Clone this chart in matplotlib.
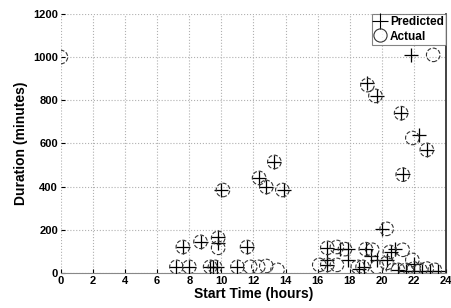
import matplotlib
matplotlib.use("Agg")
import matplotlib.pyplot as plt
from matplotlib.lines import Line2D

# Actual (circles)
actual_t = [0.0, 23.2, 19.1, 19.6, 21.2, 21.9, 22.8, 21.3, 13.3, 12.35, 12.8, 13.8, 10.1, 20.3,
            7.6, 8.7, 9.8, 9.8, 11.6,
            7.2, 8.0, 9.3, 9.6, 11.0, 11.8, 12.3, 12.8, 13.5,
            16.1, 16.6, 17.2, 17.7, 16.6, 17.2, 18.5, 18.8, 19.0, 19.4, 19.7, 20.3, 20.5, 21.3,
            21.9, 20.7, 21.0, 21.5, 22.0, 22.4, 22.8, 23.3]
actual_d = [1000, 1010, 870, 820, 740, 625, 570, 455, 514, 440, 398, 384, 384, 204,
            120, 144, 162, 116, 120,
            28, 28, 28, 28, 28, 28, 28, 32, 14,
            37, 116, 120, 110, 37, 37, 28, 28, 110, 107, 28, 46, 97, 107,
            60, 14, 14, 14, 20, 14, 20, 14]

# Predicted (plus)
pred_t = [21.8, 19.1, 19.7, 21.2, 22.3, 22.8, 21.3, 13.3, 12.35, 12.8, 13.9, 10.0, 20.0,
          7.6, 8.7, 9.8, 9.8, 11.6,
          7.2, 8.0, 9.3, 9.5, 9.7, 11.0,
          16.6, 16.6, 16.6, 17.4, 17.9, 17.9, 18.6, 18.9, 19.0, 19.3, 19.7, 20.3, 20.6, 20.8,
          21.0, 21.5, 22.0, 22.0, 22.5, 23.0, 23.5]
pred_d = [1010, 880, 820, 740, 640, 570, 460, 514, 440, 398, 384, 384, 204,
          120, 144, 165, 140, 120,
          28, 28, 28, 28, 28, 28,
          116, 60, 37, 110, 110, 60, 20, 28, 110, 80, 60, 60, 97, 110,
          14, 10, 40, 10, 10, 10, 10]

x_ticks = list(range(0, 25, 2))
y_ticks = list(range(0, 1201, 200))

plt.rcParams['font.family'] = ['Liberation Sans', 'DejaVu Sans']
plt.rcParams['font.weight'] = 'bold'

fig = plt.figure(figsize=(4.51, 3.08), dpi=100)
ax = fig.add_axes([0.135, 0.114, 0.854, 0.841])

ax.scatter(pred_t, pred_d, marker='+', s=90, c='black', linewidths=0.9, zorder=3)
ax.scatter(actual_t, actual_d, marker='o', s=95, facecolors='none', edgecolors='#333333',
           linewidths=0.8, linestyles='--', zorder=3)

ax.set_xlim(0, 24)
ax.set_ylim(0, 1200)
ax.set_xticks(x_ticks)
ax.set_yticks(y_ticks)
ax.tick_params(labelsize=8, length=3, direction='in', pad=2)
for lab in ax.get_xticklabels() + ax.get_yticklabels():
    lab.set_fontweight('bold')
ax.grid(True, linestyle=':', color='#b0b0b0', linewidth=0.8)
ax.set_axisbelow(True)

for s in ['top', 'left']:
    ax.spines[s].set_visible(False)
ax.spines['bottom'].set_color('#888888')
ax.spines['right'].set_color('#222222')
ax.spines['right'].set_linewidth(1.2)

ax.set_xlabel('Start Time (hours)', fontsize=10, fontweight='bold', labelpad=1)
ax.set_ylabel('Duration (minutes)', fontsize=10, fontweight='bold', labelpad=4)

handles = [Line2D([], [], marker='+', color='black', linestyle='none', markersize=11, markeredgewidth=0.8),
           Line2D([], [], marker='o', markerfacecolor='none', markeredgecolor='#333333',
                  linestyle='none', markersize=9.5, markeredgewidth=0.8)]
leg = ax.legend(handles, ['Predicted', 'Actual'], loc='upper right', fontsize=8.5,
                frameon=True, fancybox=False, handlelength=1.0, handletextpad=0.3,
                borderpad=0.2, labelspacing=0.2, borderaxespad=0.0)
leg.get_frame().set_edgecolor('#666666')
leg.get_frame().set_linewidth(0.8)
for t in leg.get_texts():
    t.set_fontweight('bold')

fig.savefig('out.png', dpi=100)
